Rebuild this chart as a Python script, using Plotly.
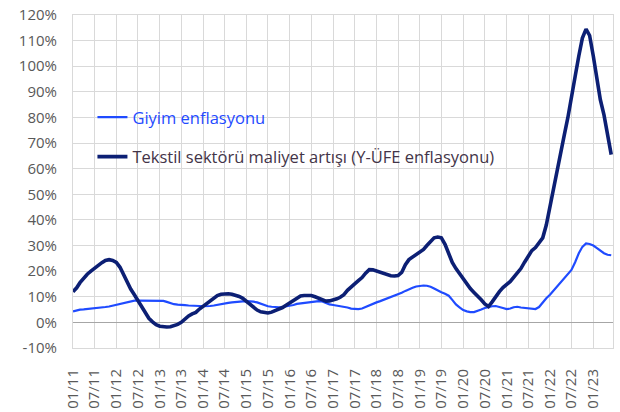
import plotly.graph_objects as go
import pandas as pd

months = pd.date_range("2011-01-01", "2023-06-01", freq="MS").strftime("%Y-%m-%d").tolist()

tekstil = [
    12.0, 13.5, 15.5, 17.3, 18.8, 20.0, 21.2, 22.3, 23.3, 24.2, 24.5, 24.2,
    23.4, 21.5, 18.5, 15.8, 13.0, 10.8, 8.5, 6.0, 3.5, 1.6, 0.2, -0.9,
    -1.5, -1.8, -1.8, -1.7, -1.4, -0.8, 0.0, 1.3, 2.5, 3.3, 3.9, 5.2,
    6.3, 7.6, 8.7, 9.7, 10.5, 11.0, 11.2, 11.2, 11.0, 10.6, 10.1, 9.4,
    8.3, 7.0, 5.8, 4.8, 4.1, 3.8, 3.7, 4.0, 4.5, 5.1, 5.8, 6.7,
    7.6, 8.7, 9.6, 10.3, 10.5, 10.5, 10.5, 10.0, 9.3, 8.8, 8.3, 8.4,
    8.7, 9.2, 9.8, 10.8, 12.5, 14.0, 15.0, 16.3, 17.5, 19.2, 20.6, 20.5,
    20.0, 19.5, 19.0, 18.6, 18.2, 18.1, 18.3, 19.5, 22.5, 24.5, 25.5, 26.3,
    27.3, 28.5, 30.0, 31.8, 33.0, 33.3, 33.0, 30.5, 26.5, 23.4, 21.0, 19.0,
    16.9, 15.0, 13.2, 11.7, 10.5, 8.8, 7.2, 6.2, 8.0, 10.2, 12.0, 13.6,
    14.8, 16.0, 17.6, 19.2, 21.0, 23.5, 26.0, 28.0, 29.2, 31.0, 33.0, 38.0,
    45.5, 52.0, 59.0, 66.0, 73.0, 80.0, 87.0, 96.0, 104.0, 111.0, 114.5, 112.0,
    104.0, 96.0, 87.0, 81.0, 74.0, 65.5,
]

giyim = [
    4.3, 4.8, 5.0, 5.1, 5.2, 5.4, 5.5, 5.6, 5.8, 6.0, 6.2, 6.5,
    6.7, 7.0, 7.4, 7.8, 8.2, 8.5, 8.5, 8.5, 8.5, 8.5, 8.5, 8.5,
    8.5, 8.4, 8.0, 7.4, 7.1, 6.9, 6.7, 6.7, 6.6, 6.6, 6.5, 6.4,
    6.3, 6.3, 6.4, 6.6, 6.9, 7.2, 7.4, 7.6, 7.8, 8.0, 8.1, 8.2,
    8.3, 8.3, 8.1, 7.8, 7.3, 6.8, 6.3, 6.1, 5.9, 5.9, 6.0, 6.2,
    6.4, 6.8, 7.2, 7.4, 7.6, 7.8, 7.9, 8.1, 8.3, 8.2, 7.6, 7.0,
    6.8, 6.6, 6.4, 6.2, 5.8, 5.4, 5.2, 5.2, 5.4, 6.0, 6.8, 7.4,
    7.8, 8.3, 8.8, 9.2, 9.8, 10.4, 11.0, 11.6, 12.3, 13.0, 13.5, 14.0,
    14.3, 14.4, 14.3, 13.9, 13.2, 12.4, 11.8, 11.2, 10.4, 8.8, 7.0, 5.9,
    4.8, 4.3, 4.0, 4.0, 4.4, 5.0, 5.6, 6.0, 6.3, 6.4, 6.1, 5.6,
    5.2, 5.4, 5.9, 6.1, 5.8, 5.6, 5.6, 5.4, 5.2, 6.0, 7.8, 9.4,
    10.8, 12.4, 14.2, 15.8, 17.3, 18.8, 20.5, 23.5, 27.0, 29.5, 30.8, 30.6,
    30.0, 29.0, 28.0, 27.0, 26.4, 26.2,
]

tick_dates = pd.date_range("2011-01-01", "2023-01-01", freq="6MS").strftime("%Y-%m-%d").tolist()
tick_labels = pd.date_range("2011-01-01", "2023-01-01", freq="6MS").strftime("%m/%y").tolist()
y_ticks = list(range(-10, 121, 10))
y_labels = [f"{v}%" for v in y_ticks]

name_giyim = "Giyim enflasyonu"
name_tekstil = "Tekstil sektörü maliyet artışı (Y-ÜFE enflasyonu)"

BLUE = "#1f4bff"
NAVY = "#0c1f74"
GRID = "#d9d9d9"
FONT = "Open Sans"

fig = go.Figure()
fig.add_trace(go.Scatter(
    x=months, y=giyim, mode="lines", name=f"<span style='color:{BLUE}'>{name_giyim}</span>",
    line=dict(color=BLUE, width=2.2), legendgroup="a",
))
fig.add_trace(go.Scatter(
    x=months, y=tekstil, mode="lines", name=f"<span style='color:#433448'>{name_tekstil}</span>",
    line=dict(color=NAVY, width=3.6), legendgroup="b",
))

# plot area at x 73..613, y 15..348 (page body margin removed below)
fig.update_layout(
    width=620, height=412,
    margin=dict(l=73, r=7, t=15, b=64, autoexpand=False),
    paper_bgcolor="white", plot_bgcolor="white",
    font=dict(family=FONT, size=15, color="#595959"),
    showlegend=True,
    legend=dict(
        x=0.036, y=0.745, xanchor="left", yanchor="top",
        bgcolor="rgba(255,255,255,0)", borderwidth=0,
        traceorder="grouped", tracegroupgap=15,
        font=dict(family=FONT, size=16.5),
        itemwidth=30,
    ),
    xaxis=dict(
        type="date",
        range=["2011-01-01", "2023-06-16"],
        tickmode="array", tickvals=tick_dates, ticktext=tick_labels,
        tickangle=-90, automargin=False, ticklabeloverflow="allow",
        showgrid=True, gridcolor=GRID, gridwidth=1,
        showline=True, mirror=True, linecolor=GRID, linewidth=1,
        ticks="", ticklabelstandoff=14,
        tickfont=dict(family=FONT, size=15, color="#595959"),
        zeroline=False,
    ),
    yaxis=dict(
        range=[-10, 120], automargin=False, ticklabeloverflow="allow",
        tickmode="array", tickvals=y_ticks, ticktext=y_labels,
        showgrid=True, gridcolor=GRID, gridwidth=1,
        showline=True, mirror=True, linecolor=GRID, linewidth=1,
        zeroline=True, zerolinecolor="#a6a6a6", zerolinewidth=1,
        ticks="", ticklabelstandoff=12,
        tickfont=dict(family=FONT, size=15, color="#595959"),
    ),
)

fig.write_html(
    "out.html",
    config={"displayModeBar": False},
    post_script="document.body.style.margin='0';",
)
